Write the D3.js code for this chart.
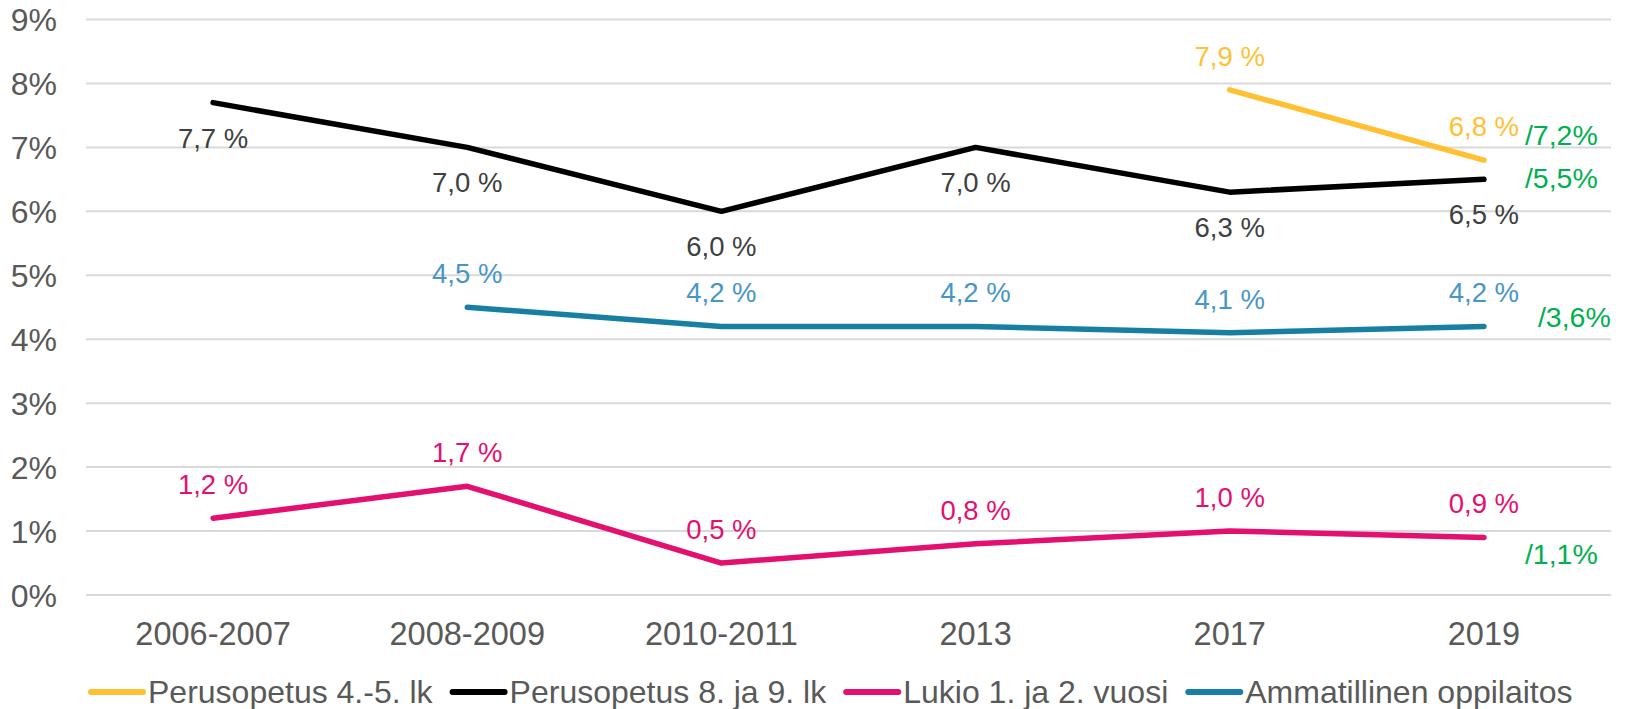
<!DOCTYPE html>
<html>
<head>
  <meta charset="utf-8">
  <script src="https://cdn.jsdelivr.net/npm/d3@7"></script>
  <style>
    body { margin: 0; background: #fff; }
    text { font-family: 'Liberation Sans', Arial, sans-serif; }
  </style>
</head>
<body>
  <svg id="chart" width="1625" height="709"></svg>

  <script>
    // categories and series values (%)
    var years = ['2006-2007', '2008-2009', '2010-2011', '2013', '2017', '2019'];
    var perus45 = [null, null, null, null, 7.9, 6.8];
    var perus89 = [7.7, 7.0, 6.0, 7.0, 6.3, 6.5];
    var lukio = [1.2, 1.7, 0.5, 0.8, 1.0, 0.9];
    var ammat = [null, 4.5, 4.2, 4.2, 4.1, 4.2];
    var yTicks = [0, 1, 2, 3, 4, 5, 6, 7, 8, 9];

    // comparison values written next to the 2019 points
    var compareLabels = ['/7,2%', '/5,5%', '/1,1%', '/3,6%'];

    var series = [
      { name: 'Perusopetus 4.-5. lk', values: perus45, color: '#FFC133', text: '#FFC133', dy: -24, cmpDx: 41, cmpDy: -15 },
      { name: 'Perusopetus 8. ja 9. lk', values: perus89, color: '#000000', text: '#404040', dy: 45, cmpDx: 41, cmpDy: 9 },
      { name: 'Lukio 1. ja 2. vuosi', values: lukio, color: '#E3106F', text: '#E3106F', dy: -24, cmpDx: 41, cmpDy: 27 },
      { name: 'Ammatillinen oppilaitos', values: ammat, color: '#187FA3', text: '#4896C7', dy: -24, cmpDx: 54, cmpDy: 1 }
    ];

    var svg = d3.select('#chart');
    var margin = { left: 86, right: 14, top: 19.5, bottom: 114 };
    var width = 1625, height = 709;

    var x = d3.scaleBand()
      .domain(years)
      .range([margin.left, width - margin.right]);

    var y = d3.scaleLinear()
      .domain([0, 9])
      .range([height - margin.bottom, margin.top]);

    var fmt = v => v.toFixed(1).replace('.', ',') + ' %';

    // gridlines
    svg.append('g')
      .selectAll('line')
      .data(yTicks)
      .enter()
      .append('line')
      .attr('x1', x.range()[0])
      .attr('x2', x.range()[1])
      .attr('y1', d => y(d))
      .attr('y2', d => y(d))
      .attr('stroke', '#D9D9D9')
      .attr('stroke-width', 2);

    // y axis labels
    svg.append('g')
      .selectAll('text')
      .data(yTicks)
      .enter()
      .append('text')
      .attr('x', 57)
      .attr('y', d => y(d) + 11.5)
      .attr('text-anchor', 'end')
      .attr('font-size', 32)
      .attr('fill', '#595959')
      .text(d => d + '%');

    // x axis labels
    svg.append('g')
      .selectAll('text')
      .data(years)
      .enter()
      .append('text')
      .attr('x', d => x(d) + x.bandwidth() / 2)
      .attr('y', 645)
      .attr('text-anchor', 'middle')
      .attr('font-size', 32.5)
      .attr('fill', '#595959')
      .text(d => d);

    var cx = i => x(years[i]) + x.bandwidth() / 2;

    var line = d3.line()
      .defined(d => d != null)
      .x((d, i) => cx(i))
      .y(d => y(d));

    // lines: black first, then the others
    [1, 3, 2, 0].forEach(k => {
      var s = series[k];
      svg.append('path')
        .datum(s.values)
        .attr('fill', 'none')
        .attr('stroke', s.color)
        .attr('stroke-width', 5.5)
        .attr('stroke-linecap', 'round')
        .attr('stroke-linejoin', 'round')
        .attr('d', line);
    });

    // data labels
    series.forEach(s => {
      svg.append('g')
        .selectAll('text')
        .data(s.values.map((v, i) => ({ v: v, i: i })).filter(d => d.v != null))
        .enter()
        .append('text')
        .attr('x', d => cx(d.i))
        .attr('y', d => y(d.v) + s.dy)
        .attr('text-anchor', 'middle')
        .attr('font-size', 27.5)
        .attr('fill', s.text)
        .text(d => fmt(d.v));
    });

    // comparison labels next to 2019
    var last = years.length - 1;
    series.forEach((s, k) => {
      svg.append('text')
        .attr('x', cx(last) + s.cmpDx)
        .attr('y', y(s.values[last]) + s.cmpDy)
        .attr('font-size', 28.5)
        .attr('fill', '#00B050')
        .text(compareLabels[k]);
    });

    // legend
    var legend = svg.append('g');
    var lx = 91;
    series.forEach(s => {
      legend.append('line')
        .attr('x1', lx)
        .attr('x2', lx + 52)
        .attr('y1', 692)
        .attr('y2', 692)
        .attr('stroke', s.color)
        .attr('stroke-width', 6)
        .attr('stroke-linecap', 'round');
      var t = legend.append('text')
        .attr('x', lx + 57)
        .attr('y', 703)
        .attr('font-size', 32)
        .attr('fill', '#595959')
        .text(s.name);
      lx += 57 + t.node().getComputedTextLength() + 20;
    });
  </script>
</body>
</html>
